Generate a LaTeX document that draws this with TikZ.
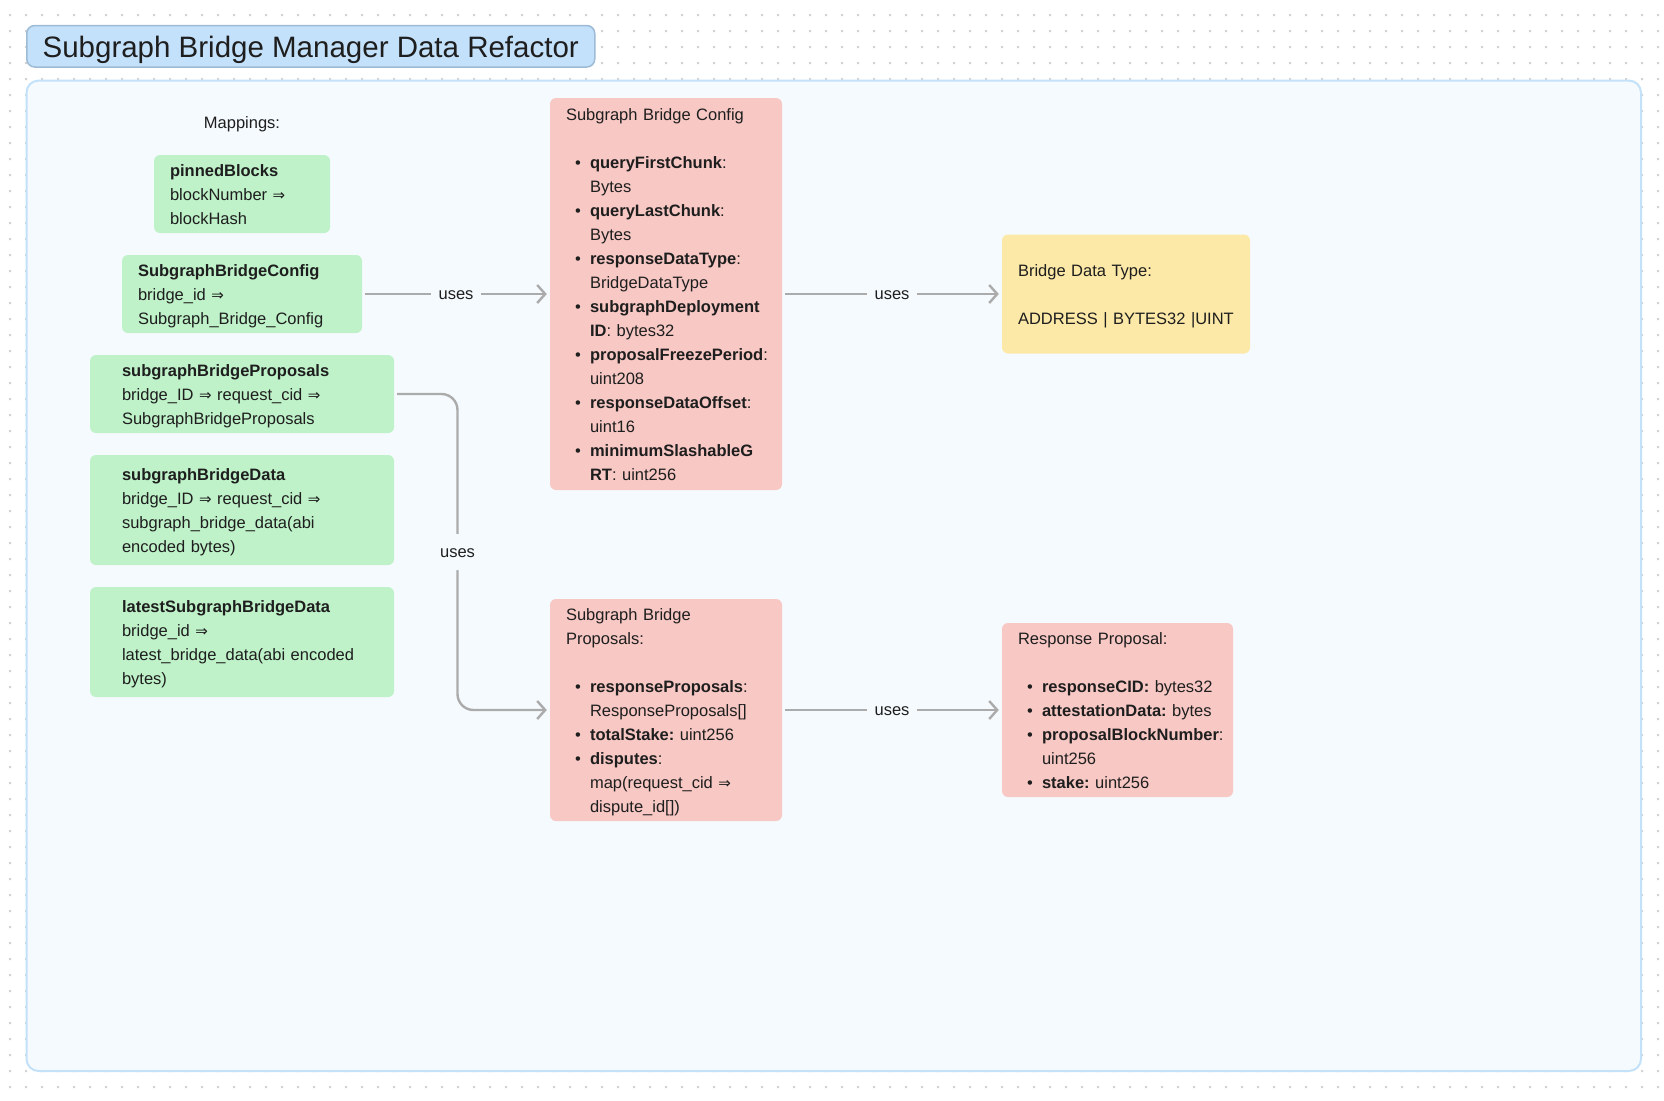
\documentclass[tikz,border=0pt]{standalone}
\usepackage{fontspec}
\setmainfont{Liberation Sans}
\newfontfamily\arrowfont{DejaVu Sans}
\usetikzlibrary{arrows.meta}

\definecolor{dotc}{HTML}{D2D2D2}
\definecolor{framefill}{HTML}{F5FAFE}
\definecolor{framedraw}{HTML}{C4E1FA}
\definecolor{titlefill}{HTML}{C4E1FB}
\definecolor{titledraw}{HTML}{9EBBD6}
\definecolor{mapfill}{HTML}{BFF2C9}
\definecolor{structfill}{HTML}{F7C8C4}
\definecolor{typefill}{HTML}{FCE9A8}
\definecolor{linkc}{HTML}{ABABAB}
\definecolor{ink}{HTML}{1E1E1E}

\hyphenpenalty=10000
\exhyphenpenalty=10000

% mapping arrow, bullet, hanging indent and line strut
\newcommand{\imp}{{\arrowfont\fontsize{15}{24}\selectfont ⇒}}
\newcommand{\bul}{\makebox[24pt][l]{\hspace{9pt}\textbullet}}
\newcommand{\ind}{\hspace*{24pt}}
\newcommand{\lstrut}{\rule[-5.2pt]{0pt}{24pt}}

\tikzset{
  mapbox/.style={fill=mapfill, rounded corners=6pt, align=left, inner ysep=0pt, text=ink},
  structbox/.style={fill=structfill, rounded corners=6pt, align=left, inner xsep=16pt, inner ysep=0pt, text=ink},
  typebox/.style={fill=typefill, rounded corners=6pt, align=left, inner xsep=16pt, inner ysep=0pt, text=ink},
  link/.style={draw=linkc, line width=2.4pt, -{Straight Barb[length=8pt,width=18pt]}, shorten <=3pt, shorten >=3pt},
  useslabel/.style={fill=framefill, text=ink, inner xsep=8pt, inner ysep=10pt, text height=13pt, text depth=3pt}
}

\begin{document}
\begin{tikzpicture}[x=1pt, y=-1pt, font=\fontsize{16.5}{24}\selectfont]
\useasboundingbox (0,0) rectangle (1664,1100);
% Dotted canvas
\foreach \y in {15,31,...,1095}
  \fill[dotc] \foreach \x in {10,26,...,1658} {(\x-1,\y-1) rectangle ++(2,2)};
% Board
\draw[framedraw, fill=framefill, line width=2pt, rounded corners=12pt] (26.5,80.6) rectangle (1641,1071);
% Title
\node[fill=titlefill, draw=titledraw, line width=1.5pt, rounded corners=8pt, minimum width=568pt, minimum height=41.5pt, inner ysep=0pt, text height=24pt, text depth=2.3pt, text=ink, font=\fontsize{29.5}{36}\selectfont] (title) at (310.75,46.25) {Subgraph Bridge Manager Data Refactor};

% Mappings
\node[text=ink] (maps) at (242,124) {Mappings:};
\node[mapbox, inner xsep=16pt, text width=144pt, minimum height=78pt] (pinned) at (242,194)
  {\lstrut\textbf{pinnedBlocks}\\ blockNumber \imp\\ blockHash\lstrut};
\node[mapbox, inner xsep=16pt, text width=208pt, minimum height=78pt] (gcfg) at (242,294)
  {\lstrut\textbf{SubgraphBridgeConfig}\\ bridge\_id \imp\\ Subgraph\_Bridge\_Config\lstrut};
\node[mapbox, inner xsep=32pt, text width=240pt, minimum height=78pt] (gprops) at (242,394)
  {\lstrut\textbf{subgraphBridgeProposals}\\ bridge\_ID \imp{} request\_cid \imp\\ SubgraphBridgeProposals\lstrut};
\node[mapbox, inner xsep=32pt, text width=240pt, minimum height=110pt] (gdata) at (242,510)
  {\lstrut\textbf{subgraphBridgeData}\\ bridge\_ID \imp{} request\_cid \imp\\ subgraph\_bridge\_data(abi\\ encoded bytes)\lstrut};
\node[mapbox, inner xsep=32pt, text width=240pt, minimum height=110pt] (glatest) at (242,642)
  {\lstrut\textbf{latestSubgraphBridgeData}\\ bridge\_id \imp\\ latest\_bridge\_data(abi encoded\\ bytes)\lstrut};

% Structs
\node[structbox, text width=200pt, minimum height=392pt] (cfg) at (666,294)
  {\lstrut Subgraph Bridge Config\\[24pt]
   \bul\textbf{queryFirstChunk}:\\ \ind Bytes\\
   \bul\textbf{queryLastChunk}:\\ \ind Bytes\\
   \bul\textbf{responseDataType}:\\ \ind BridgeDataType\\
   \bul\textbf{subgraphDeployment}\\ \ind\textbf{ID}: bytes32\\
   \bul\textbf{proposalFreezePeriod}:\\ \ind uint208\\
   \bul\textbf{responseDataOffset}:\\ \ind uint16\\
   \bul\textbf{minimumSlashableG}\\ \ind\textbf{RT}: uint256\lstrut};
\node[structbox, text width=200pt, minimum height=222pt] (props) at (666,710)
  {\lstrut Subgraph Bridge\\ Proposals:\\[24pt]
   \bul\textbf{responseProposals}:\\ \ind ResponseProposals[]\\
   \bul\textbf{totalStake:}~uint256\\
   \bul\textbf{disputes}:\\ \ind map(request\_cid~\imp\\ \ind dispute\_id[])\lstrut};
\node[structbox, text width=199pt, minimum height=174pt] (resp) at (1117.5,710)
  {\lstrut Response Proposal:\\[24pt]
   \bul\textbf{responseCID:}~bytes32\\
   \bul\textbf{attestationData:}~bytes\\
   \bul\textbf{proposalBlockNumber}:\\ \ind uint256\\
   \bul\textbf{stake:}~uint256\lstrut};
% Enum
\node[typebox, text width=216pt, minimum height=119pt] (dtype) at (1126,294)
  {\lstrut Bridge Data Type:\\[24pt] ADDRESS | BYTES32 |UINT\lstrut};

% Connectors
\draw[link] (gcfg.east) -- node[useslabel] {uses} (cfg.west);
\draw[link] (cfg.east) -- node[useslabel] {uses} (dtype.west);
\coordinate (bend) at (457.5,552);
\draw[link, rounded corners=16pt] (gprops.east) -| (bend) node[useslabel] {uses} |- (props.west);
\draw[link] (props.east) -- node[useslabel] {uses} (resp.west);
\end{tikzpicture}
\end{document}
